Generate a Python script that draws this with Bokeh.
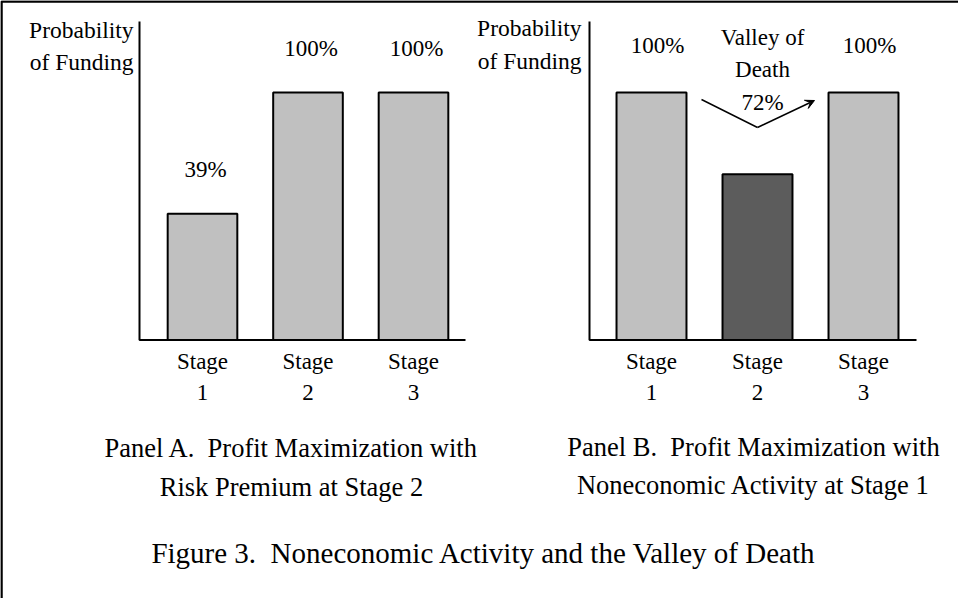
from bokeh.plotting import figure
from bokeh.models import Range1d, ColumnDataSource, Arrow, VeeHead
from bokeh.core.properties import value
from bokeh.embed import file_html
from bokeh.resources import INLINE

# ---------------- data ----------------
stage_labels = ["Stage\n1", "Stage\n2", "Stage\n3"]
stage_index = [1, 2, 3]
panel_a_heights = [51, 100, 100]          # bar heights as drawn in the figure
panel_a_labels = ["39%", "100%", "100%"]
panel_a_colors = ["#c0c0c0", "#c0c0c0", "#c0c0c0"]
panel_b_heights = [100, 67, 100]
panel_b_labels = ["100%", "72%", "100%"]
panel_b_colors = ["#c0c0c0", "#5c5c5c", "#c0c0c0"]
y_label = "Probability\nof Funding"
valley_label = "Valley of\nDeath"
panel_a_title = "Panel A.\u00a0 Profit Maximization with\nRisk Premium at Stage 2"
panel_b_title = "Panel B.\u00a0 Profit Maximization with\nNoneconomic Activity at Stage 1"
figure_title = "Figure 3.\u00a0 Noneconomic Activity and the Valley of Death"

# ---------------- layout constants (page pixels) ----------------
W, H = 958, 598
OX, OY = 8, 8
BASE_Y, FULL_Y = 347.5, 100.0          # page y of value 0 and value 100
UNIT = (BASE_Y - FULL_Y) / 100.0
A_X1, A_STEP = 210.0, 105.5            # page x of stage 1 in panel A, spacing
B_X1, B_STEP = 659.0, 106.0
FONT = value("Liberation Serif")


def fx(x):
    return x - OX


def fy(y):
    return y - OY


p = figure(width=W, height=H, x_range=Range1d(0, W), y_range=Range1d(H, 0),
           min_border=0, output_backend="svg", toolbar_location=None,
           x_axis_type=None, y_axis_type=None)
p.outline_line_color = None
p.background_fill_color = "white"
p.border_fill_color = "white"

p.extra_y_ranges = {"v": Range1d(start=-(OY + H - BASE_Y) / UNIT, end=(BASE_Y - OY) / UNIT)}
p.extra_x_ranges = {
    "a": Range1d(1 + (OX - A_X1) / A_STEP, 1 + (OX + W - A_X1) / A_STEP),
    "b": Range1d(1 + (OX - B_X1) / B_STEP, 1 + (OX + W - B_X1) / B_STEP),
}

# outer frame (top and left edges visible)
p.line(x=[1, 1, W], y=[H, 1, 1], line_color="black", line_width=2.5)

panels = [
    ("a", panel_a_heights, panel_a_labels, panel_a_colors, 147, 473, 141, 53.7),
    ("b", panel_b_heights, panel_b_labels, panel_b_colors, 597, 924, 589, 52.0),
]

for name, heights, labels, colors, ax_x, ax_end, lab_x, lab_y in panels:
    src = ColumnDataSource(dict(x=stage_index, top=heights, color=colors, stage=stage_labels))
    p.vbar(x="x", top="top", bottom=0, width=0.66, source=src, x_range_name=name,
           y_range_name="v", fill_color="color", line_color="black", line_width=2)
    # axes
    p.line(x=[fx(ax_x), fx(ax_x), fx(ax_end)], y=[fy(29), fy(BASE_Y), fy(BASE_Y)],
           line_color="black", line_width=2)
    # stage labels
    p.text(x="x", y=fy(384.5), text="stage", source=src, x_range_name=name,
           text_align="center", text_baseline="middle", text_font=FONT,
           text_font_size="23px", text_line_height=1.27, text_color="black")
    # y label
    p.text(x=[fx(lab_x)], y=[fy(lab_y)], text=[y_label], text_align="right",
           text_baseline="middle", text_font=FONT, text_font_size="23.5px",
           text_line_height=1.25, text_color="black")

# value labels above bars
src_a = ColumnDataSource(dict(x=stage_index, y=panel_a_heights, t=panel_a_labels))
p.text(x="x", y="y", text="t", source=src_a, x_range_name="a", y_range_name="v",
       y_offset=-44, x_offset=3, text_align="center", text_baseline="middle",
       text_font=FONT, text_font_size="23px", text_color="black")
keep = [0, 2]
src_b = ColumnDataSource(dict(x=[stage_index[i] for i in keep],
                              y=[panel_b_heights[i] for i in keep],
                              t=[panel_b_labels[i] for i in keep]))
p.text(x="x", y="y", text="t", source=src_b, x_range_name="b", y_range_name="v",
       y_offset=-47, x_offset=6, text_align="center", text_baseline="middle",
       text_font=FONT, text_font_size="23px", text_color="black")

# valley of death annotation
p.text(x=[stage_index[1]], y=[fy(77)], text=[valley_label + "\n" + panel_b_labels[1]],
       x_range_name="b", x_offset=5, text_align="center", text_baseline="middle",
       text_font=FONT, text_font_size="23px", text_line_height=1.3, text_color="black")
p.line(x=[fx(709), fx(765)], y=[fy(107), fy(135)], line_color="black", line_width=1.5)
p.add_layout(Arrow(x_start=fx(765), y_start=fy(135), x_end=fx(822), y_end=fy(108),
                   line_color="black", line_width=1.5,
                   end=VeeHead(size=9, fill_color="black", line_color="black")))

# captions
p.text(x=[fx(299)], y=[fy(475)], text=[panel_a_title], text_align="center",
       text_baseline="middle", text_font=FONT, text_font_size="26.5px",
       text_line_height=1.28, text_color="black")
p.text(x=[fx(761)], y=[fy(473.5)], text=[panel_b_title], text_align="center",
       text_baseline="middle", text_font=FONT, text_font_size="26.5px",
       text_line_height=1.28, text_color="black")
p.text(x=[fx(491.5)], y=[fy(560)], text=[figure_title], text_align="center",
       text_baseline="middle", text_font=FONT, text_font_size="29px", text_color="black")

open("out.html", "w").write(file_html(p, INLINE))
